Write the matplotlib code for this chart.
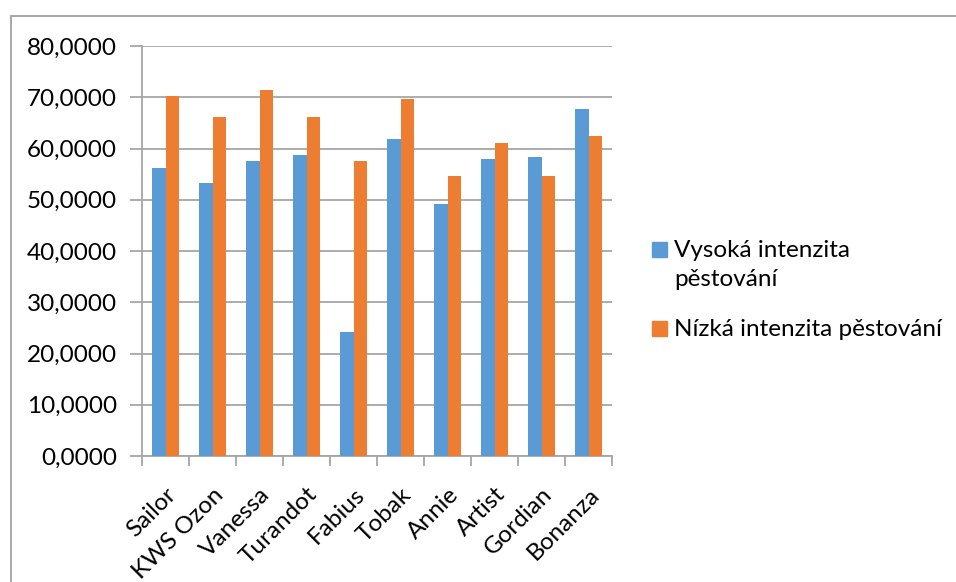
import numpy as np
import matplotlib
matplotlib.use("Agg")
import matplotlib.pyplot as plt
from matplotlib.patches import Rectangle
from matplotlib.ticker import FuncFormatter, FixedLocator

# data
odrudy = ["Sailor", "KWS Ozon", "Vanessa", "Turandot", "Fabius",
          "Tobak", "Annie", "Artist", "Gordian", "Bonanza"]
vysoka = [56.1, 53.3, 57.6, 58.8, 24.1, 61.9, 49.1, 57.9, 58.4, 67.7]
nizka = [70.3, 66.2, 71.4, 66.2, 57.6, 69.6, 54.6, 61.0, 54.7, 62.4]
serie = ["Vysoká intenzita\npěstování", "Nízká intenzita pěstování"]

MODRA = "#5B9BD5"
ORANZ = "#ED7D31"
SEDA = "#A6A6A6"

plt.rcParams["font.family"] = ["Lato", "DejaVu Sans"]

W, H = 956, 582
fig = plt.figure(figsize=(W / 100, H / 100), dpi=100)
ax = fig.add_axes([142 / W, 1 - 456 / H, (612 - 142) / W, (456 - 46) / H])

x = np.arange(len(odrudy))
w = 0.29
ax.bar(x - w / 2, vysoka, w, color=MODRA, zorder=3)
ax.bar(x + w / 2, nizka, w, color=ORANZ, zorder=3)

ax.set_xlim(-0.5, len(odrudy) - 0.5)
ax.set_ylim(0, 80)
ax.set_yticks(np.arange(0, 81, 10))
ax.yaxis.set_major_formatter(FuncFormatter(lambda v, p: f"{v:.4f}".replace(".", ",")))
ax.grid(axis="y", color=SEDA, linewidth=1.3, zorder=0)

# tick marks between categories, labels at centres
ax.xaxis.set_major_locator(FixedLocator(np.arange(-0.5, len(odrudy), 1.0)))
ax.xaxis.set_minor_locator(FixedLocator(x))
ax.set_xticklabels([""] * (len(odrudy) + 1))
ax.set_xticklabels(odrudy, minor=True, rotation=45, ha="right",
                   rotation_mode="anchor", fontsize=17.5)
ax.tick_params(axis="x", which="major", length=7, color=SEDA, width=1.3)
ax.tick_params(axis="x", which="minor", length=0, pad=20)
ax.tick_params(axis="y", length=9, color=SEDA, width=1.3, labelsize=17.5, pad=9)

for s in ["top", "right"]:
    ax.spines[s].set_visible(False)
ax.spines["left"].set_color(SEDA)
ax.spines["bottom"].set_color(SEDA)
ax.spines["left"].set_linewidth(1.3)
ax.spines["bottom"].set_linewidth(1.3)

# outer chart frame
fig.patches.append(Rectangle((11 / W, -0.1), 1.2, 1.1 - 16 / H,
                             transform=fig.transFigure, fill=False,
                             edgecolor="#A0A0A0", linewidth=1.3))

# legend
def leg_item(yc, color, text):
    fig.patches.append(Rectangle((652 / W, 1 - (yc + 7.5) / H), 15 / W, 15 / H,
                                 transform=fig.transFigure, color=color))
    fig.text(674 / W, 1 - (yc - 9) / H, text, va="top", ha="left", fontsize=17.5,
             linespacing=1.5, transform=fig.transFigure)

leg_item(249, MODRA, serie[0])
leg_item(328, ORANZ, serie[1])

fig.savefig("out.png", dpi=100)
